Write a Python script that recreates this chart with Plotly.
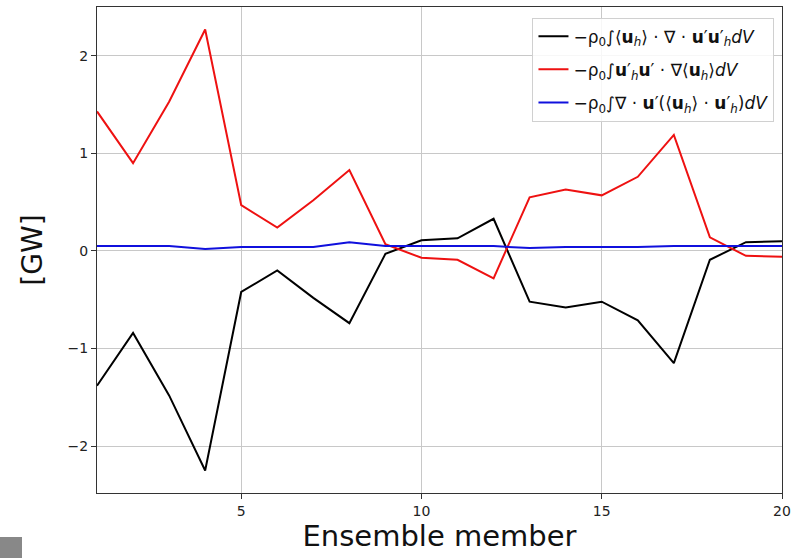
import plotly.graph_objects as go

members = list(range(1, 21))
black_vals = [-1.38, -0.84, -1.48, -2.25, -0.42, -0.20, -0.48, -0.74, -0.03, 0.11,
              0.13, 0.33, -0.52, -0.58, -0.52, -0.71, -1.15, -0.09, 0.09, 0.10]
red_vals = [1.43, 0.90, 1.53, 2.27, 0.47, 0.24, 0.52, 0.83, 0.07, -0.07,
            -0.09, -0.28, 0.55, 0.63, 0.57, 0.76, 1.19, 0.14, -0.05, -0.06]
blue_vals = [0.05, 0.05, 0.05, 0.02, 0.04, 0.04, 0.04, 0.09, 0.05, 0.05,
             0.05, 0.05, 0.03, 0.04, 0.04, 0.04, 0.05, 0.05, 0.05, 0.05]
names = [
    "−ρ<sub>0</sub>∫⟨<b>u</b><sub><i>h</i></sub>⟩ · ∇ · <b>u</b>′<b>u</b>′<sub><i>h</i></sub><i>dV</i>",
    "−ρ<sub>0</sub>∫<b>u</b>′<sub><i>h</i></sub><b>u</b>′ · ∇⟨<b>u</b><sub><i>h</i></sub>⟩<i>dV</i>",
    "−ρ<sub>0</sub>∫∇ · <b>u</b>′(⟨<b>u</b><sub><i>h</i></sub>⟩ · <b>u</b>′<sub><i>h</i></sub>)<i>dV</i>",
]
colors = ["#000000", "#ee1111", "#1010dd"]

fig = go.Figure()
for i, (vals, nm, c) in enumerate(zip([black_vals, red_vals, blue_vals], names, colors)):
    fig.add_trace(go.Scatter(x=members, y=vals, mode="lines", name=nm,
                             legendgroup=f"g{i}",
                             line=dict(color=c, width=2)))

axis_common = dict(showline=True, linecolor="#333", linewidth=1.2, mirror=True,
                   ticks="outside", ticklen=5, tickcolor="#333",
                   showgrid=True, gridcolor="#c8c8c8", gridwidth=1, zeroline=False,
                   tickfont=dict(family="DejaVu Sans", size=14, color="#222"))

fig.update_layout(
    width=793, height=558,
    margin=dict(l=97, r=11, t=7, b=65),
    plot_bgcolor="white", paper_bgcolor="white",
    font=dict(family="DejaVu Sans", color="#111"),
    xaxis=dict(range=[1, 20], tickvals=[5, 10, 15, 20], automargin=False,
               title=dict(text="Ensemble member", font=dict(size=29), standoff=4),
               **axis_common),
    yaxis=dict(range=[-2.48, 2.5], tickvals=[-2, -1, 0, 1, 2], automargin=False,
               ticktext=["−2", "−1", "0", "1", "2"],
               title=dict(text="[GW]", font=dict(size=28), standoff=16),
               **axis_common),
    legend=dict(x=0.989, y=0.978, xanchor="right", yanchor="top",
                bgcolor="rgba(255,255,255,0.85)", bordercolor="#d0d0d0", borderwidth=1,
                font=dict(family="DejaVu Sans", size=17, color="#111"),
                tracegroupgap=8),
    showlegend=True,
    shapes=[dict(type="rect", xref="paper", yref="paper",
                 x0=-97/685, x1=-75/685, y0=-65/486, y1=-44/486,
                 fillcolor="#888888", line=dict(width=0))],
)

fig.write_html("out.html")
